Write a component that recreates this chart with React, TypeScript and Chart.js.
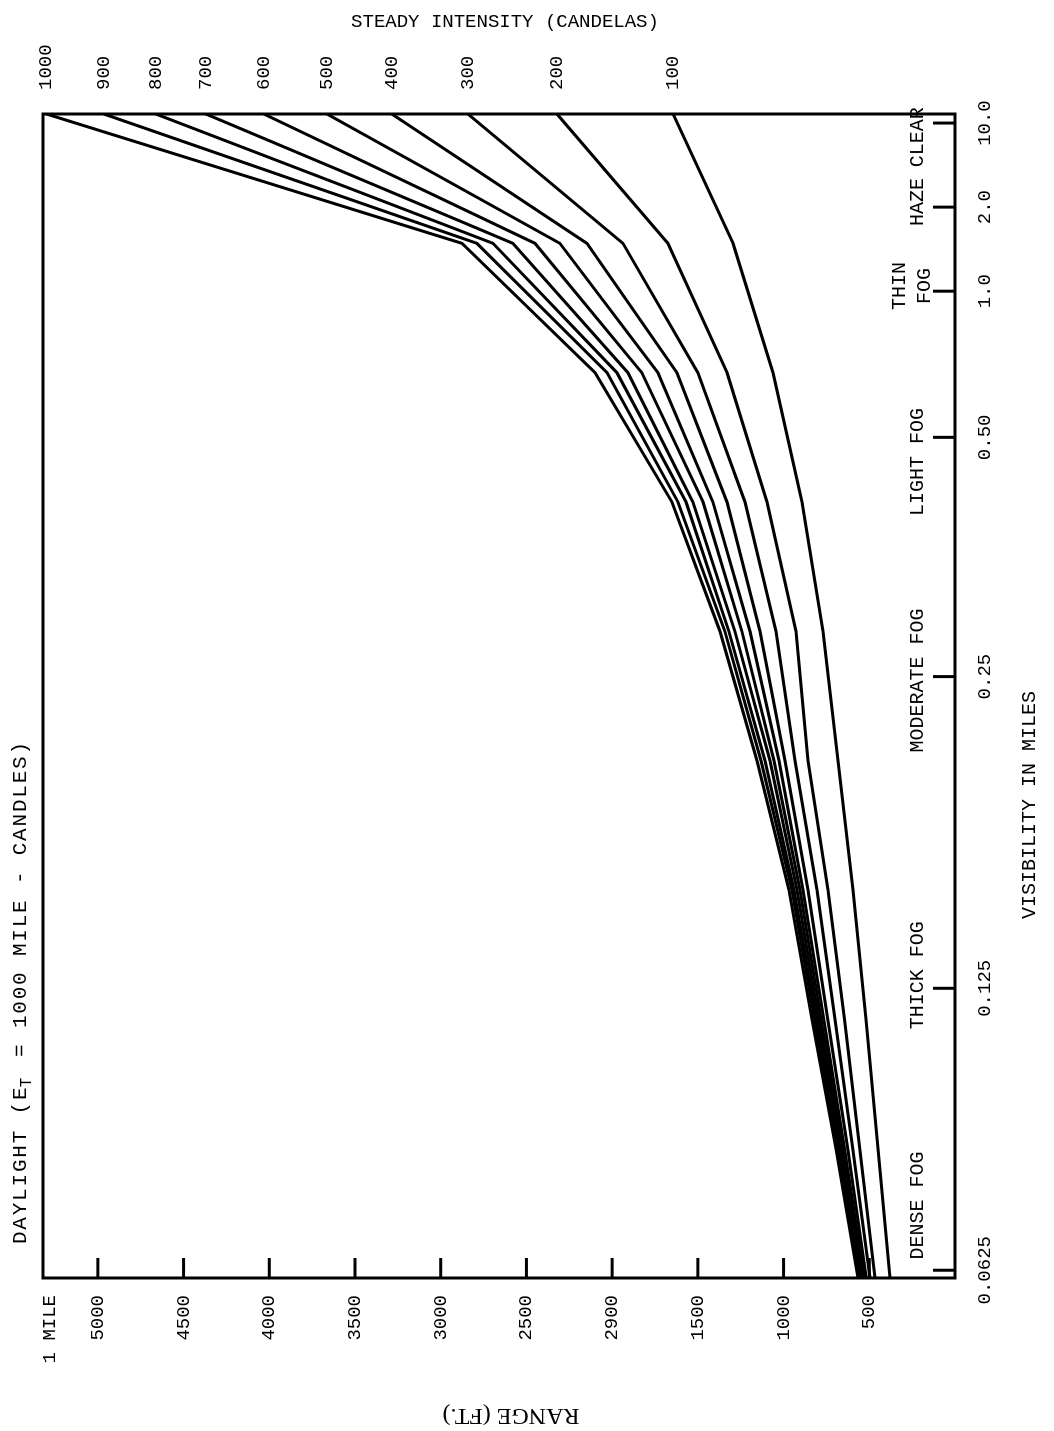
import React, { useEffect, useRef } from "react";
import { Chart, registerables } from "chart.js";

Chart.register(...registerables);

// ---------- data ----------
const INTENSITIES = [1000, 900, 800, 700, 600, 500, 400, 300, 200, 100];
// visibility steps along the chart (0 = densest fog, 9 = clear)
const VIS_STEPS = [0, 1, 2, 3, 4, 5, 6, 7, 8, 9];
// range (ft) at each visibility step
const RANGE_1000 = [566, 694, 834, 968, 1155, 1371, 1651, 2100, 2876, 5300];
const RANGE_900 = [559, 684, 820, 951, 1132, 1342, 1616, 2030, 2789, 4965];
const RANGE_800 = [552, 675, 808, 939, 1108, 1319, 1569, 1972, 2695, 4662];
const RANGE_700 = [545, 665, 795, 922, 1079, 1284, 1529, 1908, 2579, 4370];
const RANGE_600 = [538, 655, 781, 904, 1056, 1243, 1470, 1827, 2450, 4032];
const RANGE_500 = [530, 644, 766, 887, 1027, 1196, 1412, 1733, 2305, 3664];
const RANGE_400 = [517, 626, 742, 858, 992, 1138, 1330, 1622, 2147, 3285];
const RANGE_300 = [496, 596, 700, 805, 933, 1044, 1225, 1500, 1937, 2841];
const RANGE_200 = [466, 555, 645, 741, 858, 928, 1097, 1330, 1675, 2322];
const RANGE_100 = [379, 449, 519, 595, 683, 770, 893, 1062, 1295, 1645];
const SERIES = [RANGE_1000, RANGE_900, RANGE_800, RANGE_700, RANGE_600, RANGE_500, RANGE_400, RANGE_300, RANGE_200, RANGE_100];

// visibility axis ticks (step position on the chart, label)
const VIS_TICK_STEP = [0.06, 2.24, 4.65, 6.5, 7.63, 8.28, 8.93];
const VIS_LABELS = ["0.0625", "0.125", "0.25", "0.50", "1.0", "2.0", "10.0"];

// fog category labels (step position of centre)
const FOG_STEP = [0.56, 2.34, 4.62, 6.31, 7.67, 8.32, 8.82];
const FOG_LABELS = ["DENSE FOG", "THICK FOG", "MODERATE FOG", "LIGHT FOG", "THIN\nFOG", "HAZE", "CLEAR"];

// range axis ticks
const RANGE_TICKS = [500, 1000, 1500, 2000, 2500, 3000, 3500, 4000, 4500, 5000, 5280];
const RANGE_LABELS = ["500", "1000", "1500", "2900", "2500", "3000", "3500", "4000", "4500", "5000", "1 MILE"];
const RANGE_MAX = 5320;

const MONO = '"Liberation Mono", "DejaVu Sans Mono", monospace';
const SERIF = '"Liberation Serif", "DejaVu Serif", serif';

function drawSpaced(ctx: CanvasRenderingContext2D, text: string, x: number, y: number, pitch: number) {
  for (let i = 0; i < text.length; i++) {
    ctx.fillText(text[i], x + i * pitch + pitch / 2, y);
  }
}

const decor = {
  id: "decor",
  afterDraw(chart: any) {
    const { ctx, chartArea: a, scales } = chart;
    const xs = scales.x;
    const ys = scales.y;
    ctx.save();
    ctx.strokeStyle = "#000";
    ctx.fillStyle = "#000";
    ctx.lineWidth = 3;
    ctx.strokeRect(a.left, a.top, a.right - a.left, a.bottom - a.top);

    // inward tick marks on range axis
    RANGE_TICKS.forEach((v, i) => {
      if (RANGE_LABELS[i] === "1 MILE") return;
      const y = ys.getPixelForValue(v);
      ctx.beginPath();
      ctx.moveTo(a.left, y);
      ctx.lineTo(a.left + 20, y);
      ctx.stroke();
    });
    // inward tick marks on visibility axis
    VIS_TICK_STEP.forEach((s) => {
      const x = xs.getPixelForValue(s);
      ctx.beginPath();
      ctx.moveTo(x, a.bottom);
      ctx.lineTo(x, a.bottom - 22);
      ctx.stroke();
    });

    // fog category labels
    ctx.font = `20px ${MONO}`;
    ctx.textAlign = "center";
    ctx.textBaseline = "middle";
    FOG_LABELS.forEach((lab, i) => {
      const x = xs.getPixelForValue(FOG_STEP[i]);
      const lines = lab.split("\n");
      if (lines.length === 1) {
        ctx.fillText(lab, x, a.bottom - 37);
      } else {
        ctx.fillText(lines[0], x, a.bottom - 55);
        ctx.fillText(lines[1], x, a.bottom - 30);
      }
    });

    // top title (DAYLIGHT ...)
    ctx.font = `21px ${MONO}`;
    ctx.textAlign = "center";
    const pitch = 14.4;
    const t1 = "DAYLIGHT (E";
    const t2 = " = 1000 MILE - CANDLES)";
    const x0 = 186;
    drawSpaced(ctx, t1, x0, 20, pitch);
    ctx.font = `16px ${MONO}`;
    ctx.fillText("T", x0 + t1.length * pitch + pitch / 2 - 3, 27);
    ctx.font = `21px ${MONO}`;
    drawSpaced(ctx, t2, x0 + (t1.length + 1) * pitch, 20, pitch);

    // bottom axis title
    ctx.font = `20px ${MONO}`;
    ctx.fillText("VISIBILITY IN MILES", 626, 1030);

    // left axis title
    ctx.save();
    ctx.translate(16, 511);
    ctx.rotate(-Math.PI / 2);
    ctx.font = `24px ${SERIF}`;
    ctx.fillText("RANGE (FT.)", 0, 0);
    ctx.restore();

    // right axis title
    ctx.save();
    ctx.translate(1409, 505);
    ctx.rotate(Math.PI / 2);
    ctx.font = `19px ${MONO}`;
    ctx.fillText("STEADY INTENSITY (CANDELAS)", 0, 0);
    ctx.restore();

    ctx.restore();
  },
};

export default function App() {
  const ref = useRef<HTMLCanvasElement | null>(null);

  useEffect(() => {
    if (!ref.current) return;
    const datasets = SERIES.map((s, k) => ({
      label: `${INTENSITIES[k]}`,
      data: s.map((v, i) => ({ x: VIS_STEPS[i], y: v })),
      borderColor: "#000",
      backgroundColor: "#000",
      borderWidth: 3,
      pointRadius: 0,
      tension: 0,
      fill: false,
      yAxisID: "y",
    }));
    const tickFont = { family: MONO, size: 19 };
    const chart = new Chart(ref.current, {
      type: "line",
      data: { datasets },
      options: {
        animation: false,
        responsive: false,
        maintainAspectRatio: false,
        devicePixelRatio: 1,
        layout: { padding: { top: 43, left: 0, right: 0, bottom: 0 } },
        plugins: { legend: { display: false }, tooltip: { enabled: false }, title: { display: false } },
        scales: {
          x: {
            type: "linear",
            position: "bottom",
            min: 0,
            max: 9,
            grid: { display: false, drawTicks: false },
            border: { display: false },
            ticks: {
              autoSkip: false,
              maxRotation: 0,
              padding: 19,
              color: "#000",
              font: tickFont,
              callback: (_v: any, i: number) => VIS_LABELS[i],
            },
            afterBuildTicks: (s: any) => {
              s.ticks = VIS_TICK_STEP.map((v) => ({ value: v }));
            },
            afterFit: (s: any) => {
              s.height = 99;
            },
          },
          y: {
            type: "linear",
            position: "left",
            min: 0,
            max: RANGE_MAX,
            grid: { display: false, drawTicks: false },
            border: { display: false },
            ticks: {
              autoSkip: false,
              padding: 17,
              color: "#000",
              font: tickFont,
              callback: (_v: any, i: number) => RANGE_LABELS[i],
            },
            afterBuildTicks: (s: any) => {
              s.ticks = RANGE_TICKS.map((v) => ({ value: v }));
            },
            afterFit: (s: any) => {
              s.width = 153;
            },
          },
          y2: {
            type: "linear",
            position: "right",
            min: 0,
            max: RANGE_MAX,
            grid: { display: false, drawTicks: false },
            border: { display: false },
            ticks: {
              autoSkip: false,
              padding: 24,
              color: "#000",
              font: tickFont,
              callback: (_v: any, i: number) => String(INTENSITIES[i]),
            },
            afterBuildTicks: (s: any) => {
              s.ticks = SERIES.map((sr) => ({ value: sr[sr.length - 1] }));
            },
            afterFit: (s: any) => {
              s.width = 114;
            },
          },
        },
      },
      plugins: [decor],
    } as any);
    return () => chart.destroy();
  }, []);

  return (
    <div
      style={{
        position: "fixed",
        left: 0,
        top: 0,
        width: 1054,
        height: 1431,
        overflow: "hidden",
        background: "#fff",
      }}
    >
      <canvas
        ref={ref}
        width={1431}
        height={1054}
        style={{
          position: "absolute",
          left: 0,
          top: 0,
          width: 1431,
          height: 1054,
          transformOrigin: "0 0",
          transform: "translate(0px, 1431px) rotate(-90deg)",
        }}
      />
    </div>
  );
}
